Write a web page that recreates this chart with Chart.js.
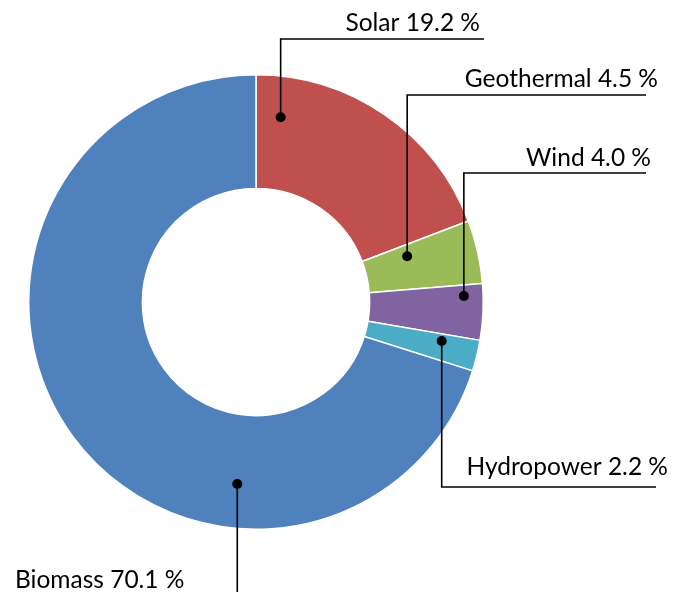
<!DOCTYPE html>
<html>
<head>
<meta charset="utf-8">
<script src="https://cdn.jsdelivr.net/npm/chart.js@4.4.1/dist/chart.umd.min.js"></script>
<style>
  html, body { margin: 0; padding: 0; background: #fff; }
  #wrap { width: 683px; height: 592px; position: relative; }
</style>
</head>
<body>
<div id="wrap"><canvas id="mixChart"></canvas></div>
<script>
// --- DATA ---
const sources = ['Solar', 'Geothermal', 'Wind', 'Hydropower', 'Biomass'];
const shares = [19.2, 4.5, 4.0, 2.2, 70.1];
const sliceColors = ['#C0504D', '#9BBB59', '#8064A2', '#4BACC6', '#4F81BD'];

// --- LABEL LAYOUT (leader lines) ---
// where the dot sits inside its slice: fraction along the arc, fraction across the ring
const dotAngleFrac = [0.11, 0.25, 0.21, 0.27, 0.31];
const dotRingFrac = [0.64, 0.39, 0.83, 0.67, 0.61];
// horizontal leader line: y and far end x
const lineY = [39, 95, 173, 487, 600];
const lineEndX = [484, 646, 646, 656, 10];
// text anchor: x, baseline y, alignment
const textX = [480, 658, 651, 668, 15];
const textY = [31, 87, 166, 475, 588];
const textAlign = ['right', 'right', 'right', 'right', 'left'];

const leaderLabels = {
    id: 'leaderLabels',
    afterDraw(chart) {
        const ctx = chart.ctx;
        const meta = chart.getDatasetMeta(0);
        ctx.save();
        ctx.font = '24.5px Lato, "Open Sans", sans-serif';
        ctx.fillStyle = '#000';
        ctx.strokeStyle = '#000';
        ctx.lineWidth = 1.6;
        meta.data.forEach((arc, i) => {
            const p = arc.getProps(['x', 'y', 'startAngle', 'endAngle', 'innerRadius', 'outerRadius'], true);
            const a = p.startAngle + (p.endAngle - p.startAngle) * dotAngleFrac[i];
            const r = p.innerRadius + (p.outerRadius - p.innerRadius) * dotRingFrac[i];
            const dx = p.x + Math.cos(a) * r;
            const dy = p.y + Math.sin(a) * r;

            ctx.beginPath();
            ctx.moveTo(dx, dy);
            ctx.lineTo(dx, lineY[i]);
            ctx.lineTo(lineEndX[i], lineY[i]);
            ctx.stroke();

            ctx.beginPath();
            ctx.arc(dx, dy, 5, 0, Math.PI * 2);
            ctx.fill();

            const text = sources[i] + ' ' + shares[i].toFixed(1) + ' %';
            ctx.textAlign = textAlign[i];
            ctx.fillText(text, textX[i], textY[i]);
        });
        ctx.restore();
    }
};

new Chart(document.getElementById('mixChart'), {
    type: 'doughnut',
    data: {
        labels: sources,
        datasets: [{
            data: shares,
            backgroundColor: sliceColors,
            borderColor: '#ffffff',
            borderWidth: 1.5
        }]
    },
    options: {
        responsive: true,
        maintainAspectRatio: false,
        animation: false,
        cutout: '50%',
        layout: { padding: { left: 27, right: 198, top: 74, bottom: 62 } },
        plugins: {
            legend: { display: false },
            tooltip: { enabled: false }
        }
    },
    plugins: [leaderLabels]
});
</script>
</body>
</html>
